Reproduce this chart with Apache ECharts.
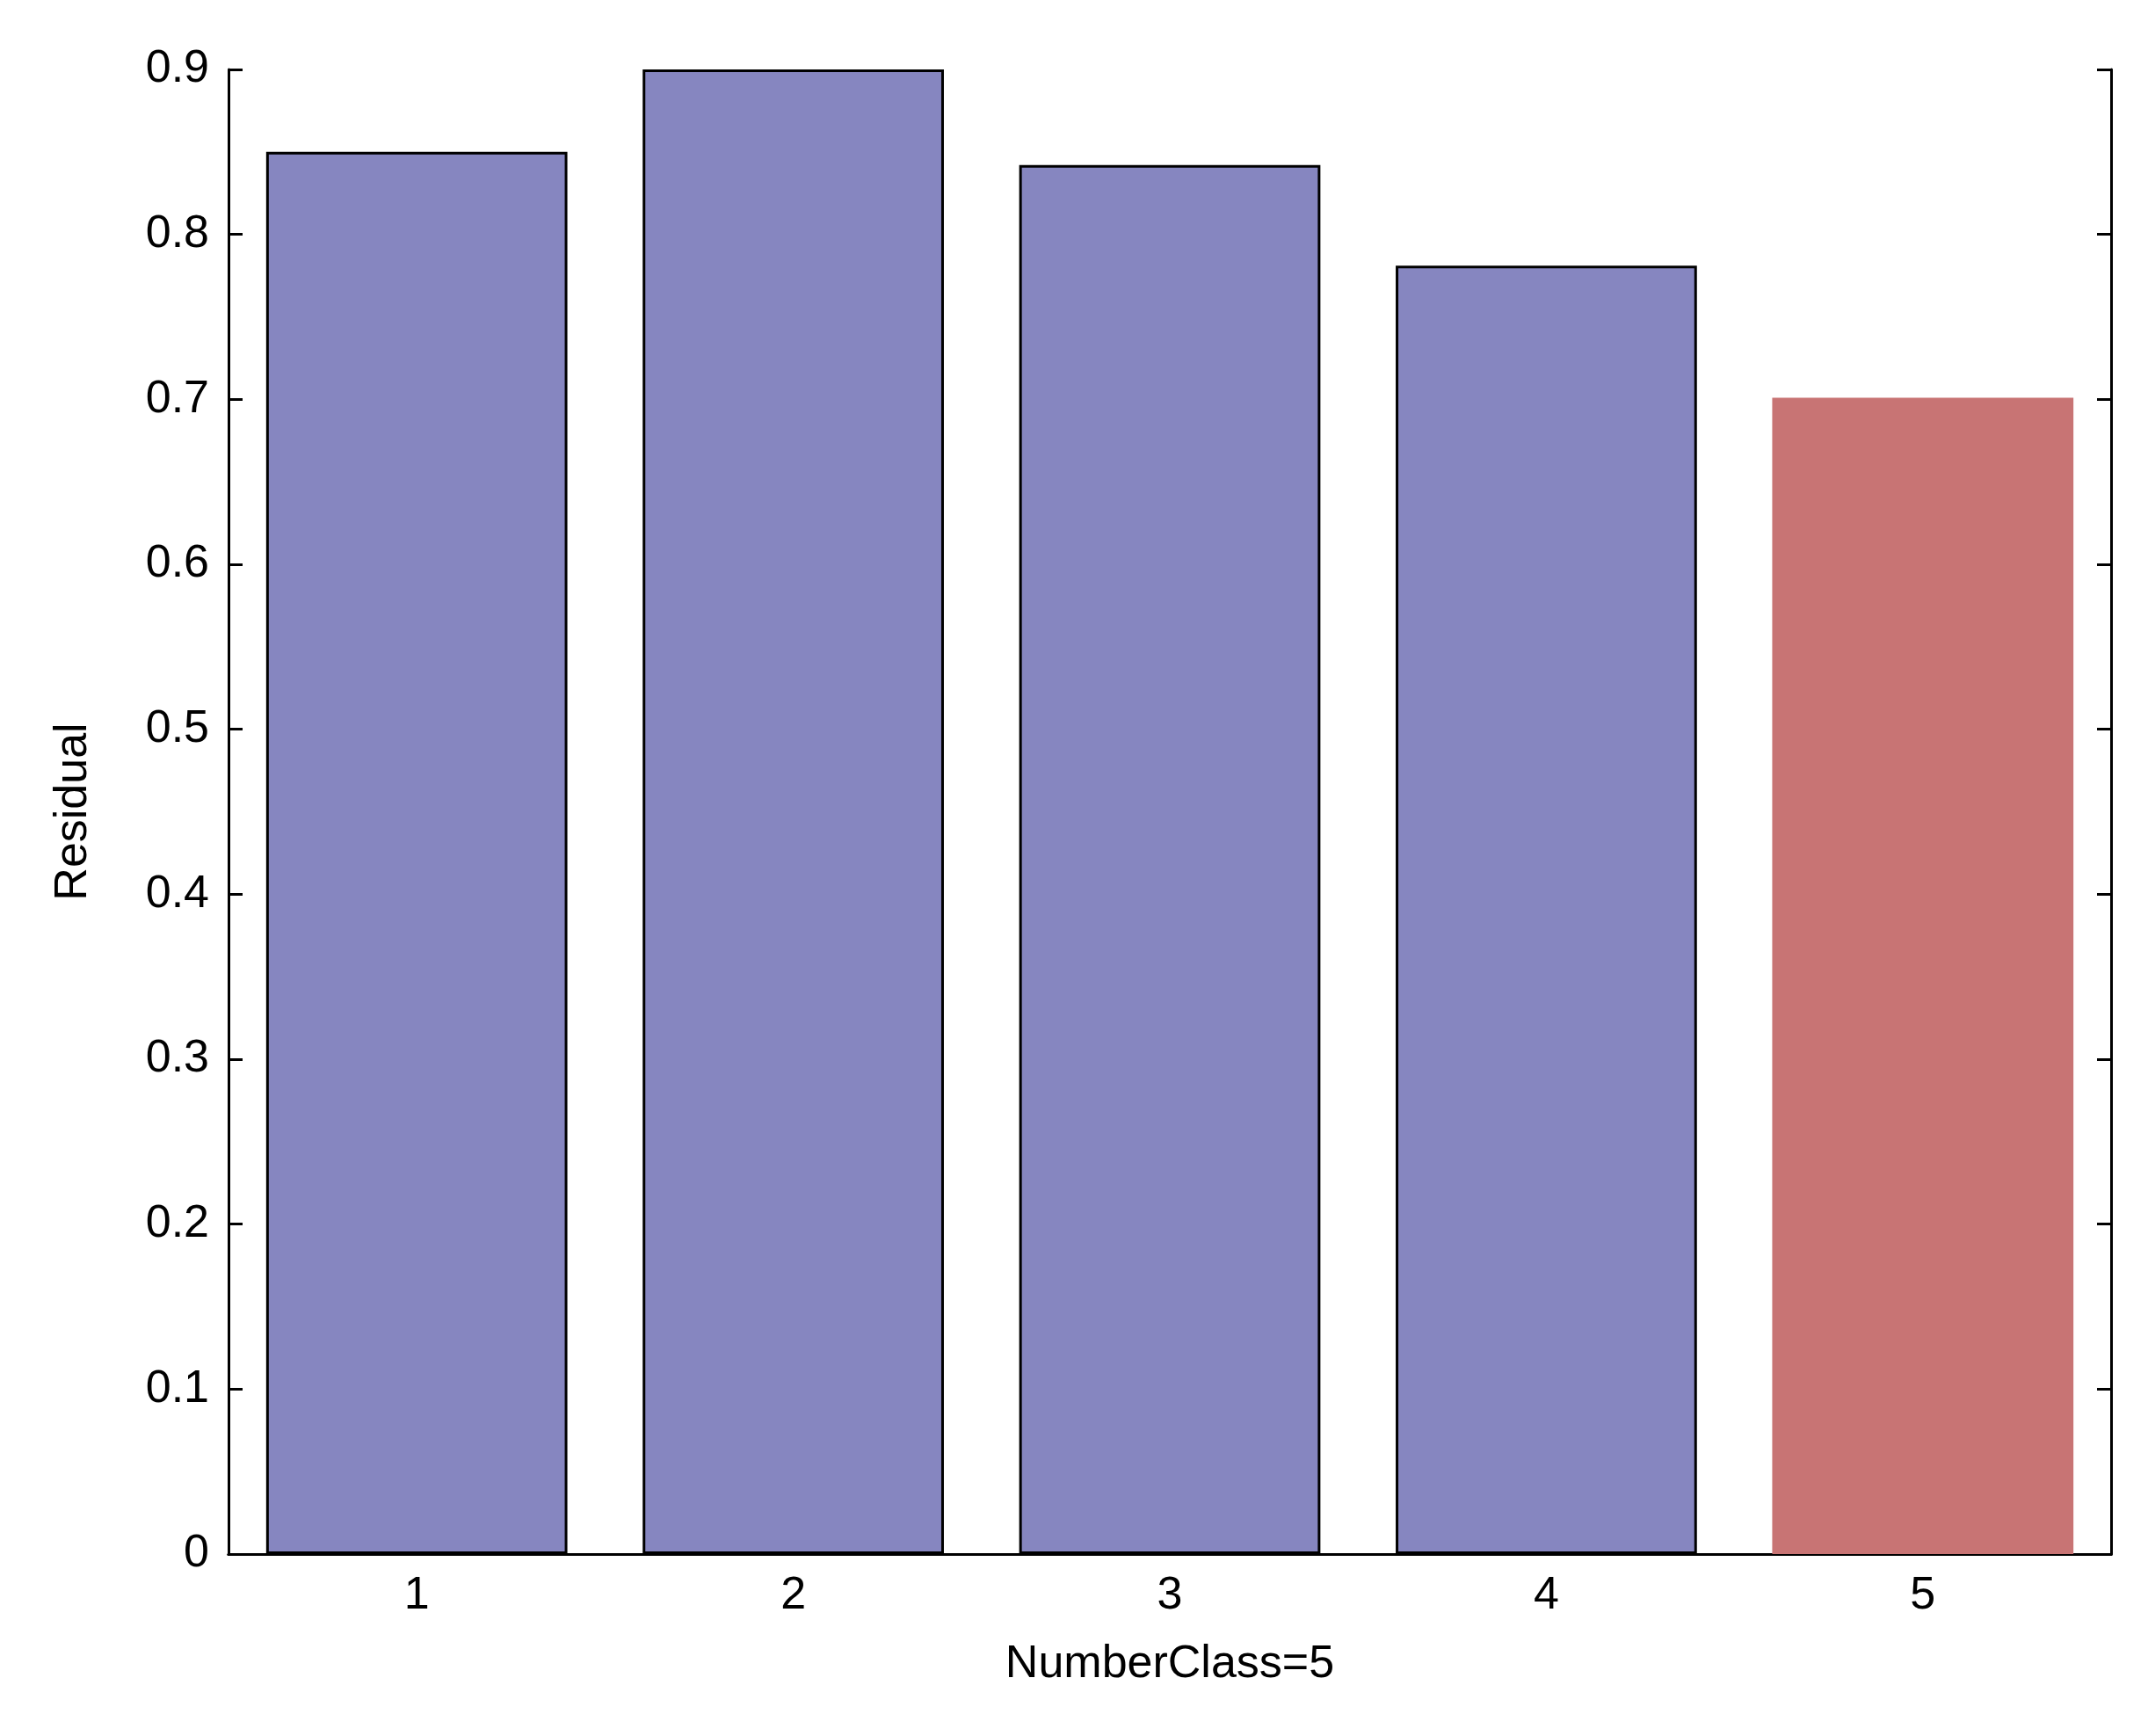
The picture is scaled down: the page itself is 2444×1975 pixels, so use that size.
<!DOCTYPE html>
<html>
<head>
<meta charset="utf-8">
<script src="https://cdn.jsdelivr.net/npm/echarts@6/dist/echarts.min.js"></script>
<style>html,body{margin:0;padding:0;background:#fff}#chart{width:2444px;height:1975px}</style>
</head>
<body>
<div id="chart"></div>
<script>
// data
var categories = ['1', '2', '3', '4', '5'];
var residuals = [0.85, 0.9, 0.842, 0.781, 0.701];
var highlightIndex = 4;

var chart = echarts.init(document.getElementById('chart'));
var font = 'Liberation Sans';
var tickStyle = {inside: true, length: 16, lineStyle: {color: '#000', width: 3}};

var option = {
    backgroundColor: '#fff',
    animation: false,
    grid: {left: 260, right: 42, top: 79, bottom: 207},
    xAxis: [
        {
            type: 'category',
            data: categories,
            name: 'NumberClass=5',
            nameLocation: 'middle',
            nameGap: 100,
            nameTextStyle: {fontFamily: font, fontSize: 52, color: '#000'},
            axisLine: {lineStyle: {color: '#000', width: 3}},
            axisTick: Object.assign({alignWithLabel: true}, tickStyle),
            axisLabel: {fontFamily: font, fontSize: 52, color: '#000', margin: 22}
        },
        {
            type: 'category',
            data: categories,
            position: 'top',
            axisLine: {lineStyle: {color: '#000', width: 3}},
            axisTick: Object.assign({alignWithLabel: true}, tickStyle),
            axisLabel: {show: false}
        }
    ],
    yAxis: [
        {
            type: 'value',
            min: 0, max: 0.9, interval: 0.1,
            name: 'Residual',
            nameLocation: 'middle',
            nameGap: 150,
            nameTextStyle: {fontFamily: font, fontSize: 52, color: '#000'},
            axisLine: {show: true, lineStyle: {color: '#000', width: 3}},
            axisTick: Object.assign({show: true}, tickStyle),
            splitLine: {show: false},
            axisLabel: {fontFamily: font, fontSize: 52, color: '#000', margin: 22,
                formatter: function (v) { return v === 0 ? '0' : v.toFixed(1); }}
        },
        {
            type: 'value',
            min: 0, max: 0.9, interval: 0.1,
            position: 'right',
            axisLine: {show: true, lineStyle: {color: '#000', width: 3}},
            axisTick: Object.assign({show: true}, tickStyle),
            splitLine: {show: false},
            axisLabel: {show: false}
        }
    ],
    series: [{
        type: 'bar',
        barWidth: '80%',
        data: residuals.map(function (v, i) {
            return i === highlightIndex
                ? {value: v, itemStyle: {color: '#c87474', borderWidth: 0}}
                : {value: v, itemStyle: {color: '#8686c0', borderColor: '#000', borderWidth: 3}};
        })
    }]
};

chart.setOption(option);
</script>
</body>
</html>
